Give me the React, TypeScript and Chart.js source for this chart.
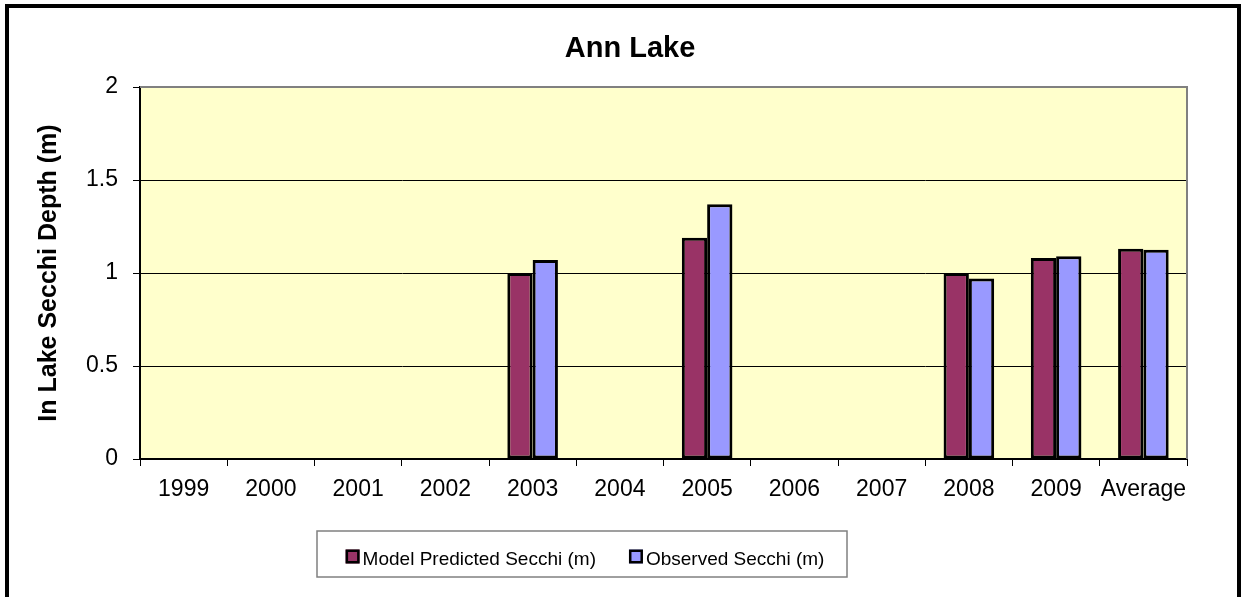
import React, { useEffect, useRef } from 'react';
import { Chart, registerables } from 'chart.js';

Chart.register(...registerables);

const categories = ['1999', '2000', '2001', '2002', '2003', '2004', '2005', '2006', '2007', '2008', '2009', 'Average'];
const predictedSecchi = [null, null, null, null, 1.0, null, 1.19, null, null, 1.0, 1.08, 1.13];
const observedSecchi = [null, null, null, null, 1.07, null, 1.37, null, null, 0.97, 1.09, 1.125];
const seriesNames = ['Model Predicted Secchi (m)', 'Observed Secchi (m)'];
const seriesColors = ['#993366', '#9999FF'];
const chartTitle = 'Ann Lake';
const yAxisTitle = 'In Lake Secchi Depth (m)';
const yMin = 0;
const yMax = 2;
const yStep = 0.5;

const FONT = '"Liberation Sans", Arial, Helvetica, sans-serif';

const framePlugin = {
  id: 'frame',
  beforeDraw(chart: any) {
    const { ctx, chartArea: a } = chart;
    ctx.save();
    ctx.fillStyle = '#ffffff';
    ctx.fillRect(0, 0, chart.width, chart.height);
    ctx.fillStyle = '#FFFFCC';
    ctx.fillRect(a.left, a.top, a.right - a.left, a.bottom - a.top);
    ctx.restore();
  },
  afterDraw(chart: any) {
    const { ctx, chartArea: a } = chart;
    ctx.save();
    // grey plot border (top and right)
    ctx.strokeStyle = '#808080';
    ctx.lineWidth = 2;
    ctx.beginPath();
    ctx.moveTo(a.left, a.top);
    ctx.lineTo(a.right, a.top);
    ctx.lineTo(a.right, a.bottom);
    ctx.stroke();

    // outer chart border
    ctx.strokeStyle = '#000';
    ctx.lineWidth = 4;
    ctx.strokeRect(7, 6, 1232, 600);

    // legend
    const ds = chart.data.datasets;
    ctx.font = `19px ${FONT}`;
    const marker = 14;
    const gap = 3;
    const itemGap = 33;
    const widths = ds.map((d: any) => ctx.measureText(d.label).width);
    const total =
      widths.reduce((s: number, w: number) => s + marker + gap + w, 0) + itemGap * (ds.length - 1);
    const boxL = 317, boxT = 531, boxR = 847, boxB = 577;
    ctx.strokeStyle = '#808080';
    ctx.lineWidth = 1.5;
    ctx.strokeRect(boxL, boxT, boxR - boxL, boxB - boxT);
    let x = 585 - total / 2;
    ctx.textBaseline = 'alphabetic';
    ctx.textAlign = 'left';
    ds.forEach((d: any, i: number) => {
      ctx.fillStyle = d.backgroundColor;
      ctx.fillRect(x, 549.5, marker, marker);
      ctx.strokeStyle = '#000';
      ctx.lineWidth = 2.5;
      ctx.strokeRect(x + 1.25, 550.75, marker - 2.5, marker - 2.5);
      ctx.fillStyle = '#000';
      ctx.fillText(d.label, x + marker + gap, 565);
      x += marker + gap + widths[i] + itemGap;
    });
    ctx.restore();
  },
};

export default function App() {
  const ref = useRef<HTMLCanvasElement | null>(null);

  useEffect(() => {
    if (!ref.current) return;
    Chart.defaults.font.family = FONT;
    Chart.defaults.color = '#000';
    const chart = new Chart(ref.current, {
      type: 'bar',
      data: {
        labels: categories,
        datasets: [
          {
            label: seriesNames[0],
            data: predictedSecchi,
            backgroundColor: seriesColors[0],
            borderColor: '#000',
            borderWidth: 3,
            borderSkipped: false,
            barPercentage: 1,
            categoryPercentage: 0.58,
          },
          {
            label: seriesNames[1],
            data: observedSecchi,
            backgroundColor: seriesColors[1],
            borderColor: '#000',
            borderWidth: 3,
            borderSkipped: false,
            barPercentage: 1,
            categoryPercentage: 0.58,
          },
        ],
      },
      options: {
        responsive: false,
        animation: false,
        devicePixelRatio: 1,
        layout: { padding: { left: 19, right: 0, top: 0, bottom: 93 } },
        plugins: {
          legend: { display: false },
          tooltip: { enabled: false },
          title: {
            display: true,
            text: chartTitle,
            color: '#000',
            font: { size: 29, weight: 'bold', family: FONT },
            padding: { top: 32, bottom: 20.2 },
          },
        },
        scales: {
          x: {
            offset: true,
            grid: {
              offset: true,
              drawOnChartArea: false,
              tickLength: 7,
              color: '#000',
              tickColor: '#000',
            },
            border: { color: '#000', width: 2 },
            ticks: {
              color: '#000',
              font: { size: 23, family: FONT },
              padding: 10,
              maxRotation: 0,
              autoSkip: false,
            },
            afterFit: (s: any) => {
              s.height = 45;
            },
          },
          y: {
            min: yMin,
            max: yMax,
            position: 'left',
            grid: {
              color: (c: any) => (c.tick && c.tick.value === yMax ? 'rgba(0,0,0,0)' : '#000'),
              tickColor: '#000',
              tickLength: 7,
              lineWidth: 1,
            },
            border: { color: '#000', width: 2 },
            ticks: {
              stepSize: yStep,
              color: '#000',
              font: { size: 23, family: FONT },
              padding: 15,
              callback: (v: any) => String(Number(v)),
            },
            title: {
              display: true,
              text: yAxisTitle,
              color: '#000',
              font: { size: 25, weight: 'bold', family: FONT },
              padding: { top: 15, bottom: 0 },
            },
            afterFit: (s: any) => {
              s.width = 121;
            },
          },
          y2: {
            type: 'linear',
            position: 'right',
            display: true,
            grid: { display: false },
            ticks: { display: false },
            border: { display: false },
            afterFit: (s: any) => {
              s.width = 54;
            },
          },
        },
      } as any,
      plugins: [framePlugin],
    });
    return () => chart.destroy();
  }, []);

  return (
    <div style={{ position: 'absolute', left: 0, top: 0, width: 1241, height: 597 }}>
      <canvas ref={ref} width={1241} height={597} />
    </div>
  );
}
